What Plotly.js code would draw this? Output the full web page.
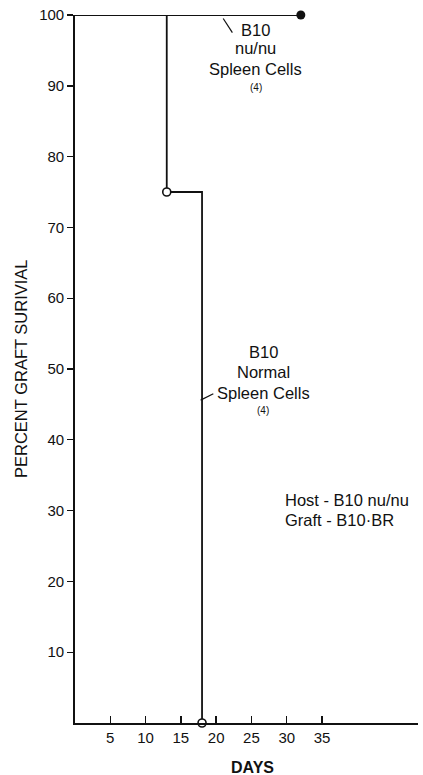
<!DOCTYPE html>
<html>
<head>
<meta charset="utf-8">
<script src="https://cdn.plot.ly/plotly-3.0.1.min.js"></script>
<style>html,body{margin:0;padding:0;background:#fff;}#chart{width:423px;height:775px;}</style>
</head>
<body>
<div id="chart"></div>
<script>
// Data
const normalDays = [0, 13, 18];
const normalSurvival = [100, 75, 0];
const normalEventDays = [13, 18];
const normalEventSurvival = [75, 0];
const nudeDays = [0, 32];
const nudeSurvival = [100, 100];
const nudeEndDay = [32];
const nudeEndSurvival = [100];
const xTickVals = [5, 10, 15, 20, 25, 30, 35];
const yTickVals = [10, 20, 30, 40, 50, 60, 70, 80, 90, 100];

const FONT = '"Liberation Sans", Arial, Helvetica, sans-serif';
const INK = '#111';

const traces = [
  {x: nudeDays, y: nudeSurvival, mode: 'lines', line: {color: INK, width: 1.8, shape: 'hv'}, cliponaxis: false},
  {x: nudeEndDay, y: nudeEndSurvival, mode: 'markers', marker: {symbol: 'circle', size: 9, color: INK}, cliponaxis: false},
  {x: normalDays, y: normalSurvival, mode: 'lines', line: {color: INK, width: 1.8, shape: 'hv'}, cliponaxis: false},
  {x: normalEventDays, y: normalEventSurvival, mode: 'markers', marker: {symbol: 'circle', size: 8, color: '#fff', line: {color: INK, width: 1.6}}, cliponaxis: false}
];

function label(x, y, text, size, anchor) {
  return {xref: 'x', yref: 'y', x: x, y: y, xanchor: anchor || 'center', yanchor: 'middle',
          showarrow: false, text: text, font: {family: FONT, size: size, color: INK}};
}

const layout = {
  width: 423, height: 775,
  margin: {l: 75, r: 5, t: 15, b: 52},
  paper_bgcolor: '#fff', plot_bgcolor: '#fff',
  showlegend: false,
  font: {family: FONT, color: INK, size: 15},
  xaxis: {
    range: [0, 48.6], showgrid: false, zeroline: false,
    showline: true, linecolor: INK, linewidth: 1.8,
    ticks: 'inside', ticklen: 7, tickwidth: 1.4, tickcolor: INK,
    tickvals: xTickVals, ticktext: xTickVals.map(String),
    tickfont: {family: FONT, size: 15, color: INK}
  },
  yaxis: {
    range: [0, 100], showgrid: false, zeroline: false,
    showline: true, linecolor: INK, linewidth: 1.8,
    ticks: 'outside', ticklen: 6, tickwidth: 1.4, tickcolor: INK,
    tickvals: yTickVals, ticktext: yTickVals.map(String),
    tickfont: {family: FONT, size: 15, color: INK}
  },
  shapes: [
    {type: 'line', xref: 'x', yref: 'y', x0: 21.0, y0: 99.5, x1: 22.3, y1: 97.5, line: {color: INK, width: 1.2}},
    {type: 'line', xref: 'x', yref: 'y', x0: 17.8, y0: 45.6, x1: 19.6, y1: 46.5, line: {color: INK, width: 1.2}}
  ],
  annotations: [
    label(25.6, 97.9, 'B10', 16.5),
    label(25.6, 95.3, 'nu/nu', 16.5),
    label(25.6, 92.4, 'Spleen Cells', 16.5),
    label(25.6, 89.7, '(4)', 10),
    label(26.7, 52.4, 'B10', 16.5),
    label(26.7, 49.6, 'Normal', 16.5),
    label(26.7, 46.6, 'Spleen Cells', 16.5),
    label(26.7, 44.1, '(4)', 10),
    label(29.5, 31.5, 'Host - B10 nu/nu', 16.5, 'left'),
    label(29.5, 28.7, 'Graft - B10·BR', 16.5, 'left'),
    {xref: 'paper', yref: 'paper', x: 0.517, y: 0, yshift: -44, xanchor: 'center', yanchor: 'middle', showarrow: false,
     text: '<b>DAYS</b>', font: {family: FONT, size: 16, color: INK}},
    {xref: 'paper', yref: 'paper', x: 0, xshift: -54, y: 0.5, xanchor: 'center', yanchor: 'middle', showarrow: false, textangle: -90,
     text: 'PERCENT GRAFT SURIVIAL', font: {family: FONT, size: 16.5, color: INK}}
  ]
};

Plotly.newPlot('chart', traces, layout, {displayModeBar: false, staticPlot: true});
</script>
</body>
</html>
